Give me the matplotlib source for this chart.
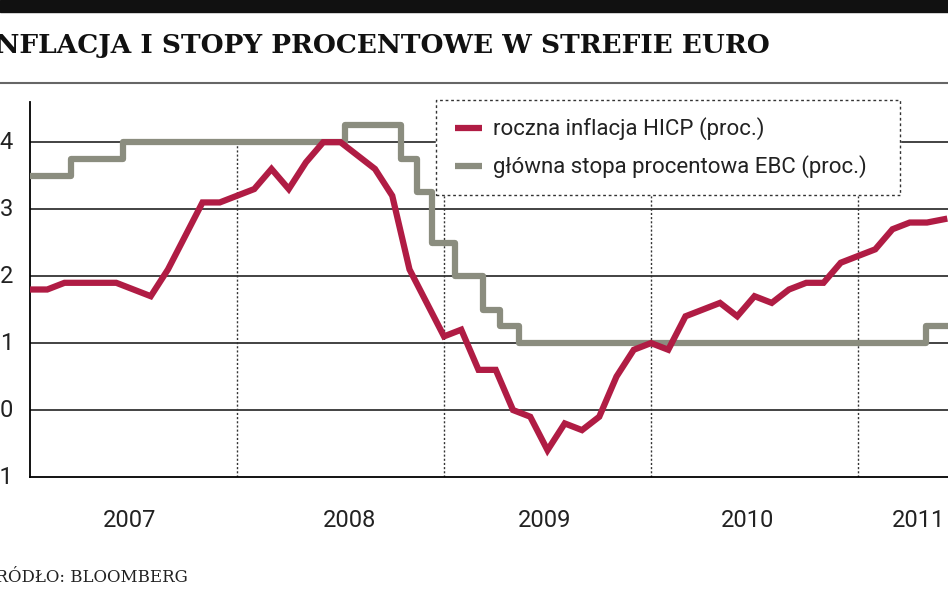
import matplotlib
matplotlib.use("Agg")
import matplotlib.pyplot as plt
import numpy as np

# monthly data from Jan 2007
inflation = [1.8,1.8,1.9,1.9,1.9,1.9,1.8,1.7,2.1,2.6,3.1,3.1,
             3.2,3.3,3.6,3.3,3.7,4.0,4.0,3.8,3.6,3.2,2.1,1.6,
             1.1,1.2,0.6,0.6,0.0,-0.1,-0.6,-0.2,-0.3,-0.1,0.5,0.9,
             1.0,0.9,1.4,1.5,1.6,1.4,1.7,1.6,1.8,1.9,1.9,2.2,
             2.3,2.4,2.7,2.8,2.8,2.85]
# ECB rate change dates (decimal year) and new values
rate_dates = [2007.0, 2007.2, 2007.45, 2008.52, 2008.79, 2008.87, 2008.94,
              2009.055, 2009.19, 2009.27, 2009.36, 2011.33, 2011.6]
rate_vals = [3.5, 3.75, 4.0, 4.25, 3.75, 3.25, 2.5, 2.0, 1.5, 1.25, 1.0, 1.25, 1.25]
years = ["2007", "2008", "2009", "2010", "2011"]
year_label_pos = [2007.48, 2008.545, 2009.488, 2010.468, 2011.29]
yticks = [4, 3, 2, 1, 0, -1]

RED = "#b01c44"
GRAY = "#8b8d7f"
W, H = 948, 593
fig = plt.figure(figsize=(W/100, H/100), dpi=100)
fig.patch.set_facecolor("white")

x0, xr = 2007.0, 2007.0 + 918/207.0
ax = fig.add_axes([30/W, (593-477)/H, 918/W, 375/H])
ax.set_xlim(x0, xr)
ax.set_ylim(-1, 4.6)
for s in ["top", "right"]:
    ax.spines[s].set_visible(False)
ax.spines["left"].set_linewidth(1.3)
ax.spines["bottom"].set_linewidth(1.3)
ax.set_xticks([]); ax.set_yticks([])
for v in yticks[:-1]:
    ax.axhline(v, color="#222", lw=1.2, zorder=1)
for yr in [2008, 2009, 2010, 2011]:
    ax.plot([yr, yr], [-1, 4], color="#333", lw=1, ls=(0, (1.5, 1.5)), zorder=1)

tx = 2007 + np.arange(len(inflation))/12.0
ax.plot(tx, inflation, color=RED, lw=4.5, solid_joinstyle="miter", zorder=4)
ax.step(rate_dates, rate_vals, where="post", color=GRAY, lw=4.5, zorder=3)

fnt = "Roboto"
for v in yticks:
    ax.text(x0 - 17/207.0, v, str(v), ha="right", va="center",
            fontsize=17, family=fnt, color="#222", clip_on=False)
for p, y in zip(year_label_pos, years):
    ax.text(p, -1.65, y, ha="center", va="center", fontsize=17,
            family=fnt, color="#222", clip_on=False)

# legend box
lx0, lx1 = 2009.0 - (445-437)/207.0, 2007 + (900-30)/207.0
ly0, ly1 = 4 - (195-142)/67.0, 4 + (142-100)/67.0
ax.plot([lx0, lx1, lx1, lx0, lx0], [ly0, ly0, ly1, ly1, ly0], color="#333",
        lw=1, ls=(0, (2, 2)), zorder=5, clip_on=False)
ax.fill_between([lx0, lx1], ly0, ly1, color="white", zorder=4.5)
for k, (lab, c) in enumerate([("roczna inflacja HICP (proc.)", RED),
                               ("główna stopa procentowa EBC (proc.)", GRAY)]):
    yy = 4 + (142 - (128 + 38*k))/67.0
    ax.plot([2007 + (455-30)/207.0, 2007 + (482-30)/207.0], [yy, yy], color=c,
            lw=4.5, zorder=6, solid_capstyle="butt")
    ax.text(2007 + (493-30)/207.0, yy, lab, va="center", ha="left", fontsize=16,
            family=fnt, color="#222", zorder=6)

# decorations
fig.patches.append(plt.Rectangle((0, 1-12/H), 1, 12/H, transform=fig.transFigure,
                                 color="#111", zorder=0))
fig.add_artist(plt.Line2D([0, 1], [1-83/H, 1-83/H], color="#666", lw=1.5))
fig.text(-17/W, 1-46/H, "INFLACJA I STOPY PROCENTOWE W STREFIE EURO",
         fontsize=19, fontweight="bold", family="DejaVu Serif", va="center",
         ha="left", color="#111")
fig.text(-16/W, 1-578/H, "ŹRÓDŁO: BLOOMBERG", fontsize=12, family="DejaVu Serif",
         va="center", ha="left", color="#222")

fig.savefig("out.png", dpi=100)
